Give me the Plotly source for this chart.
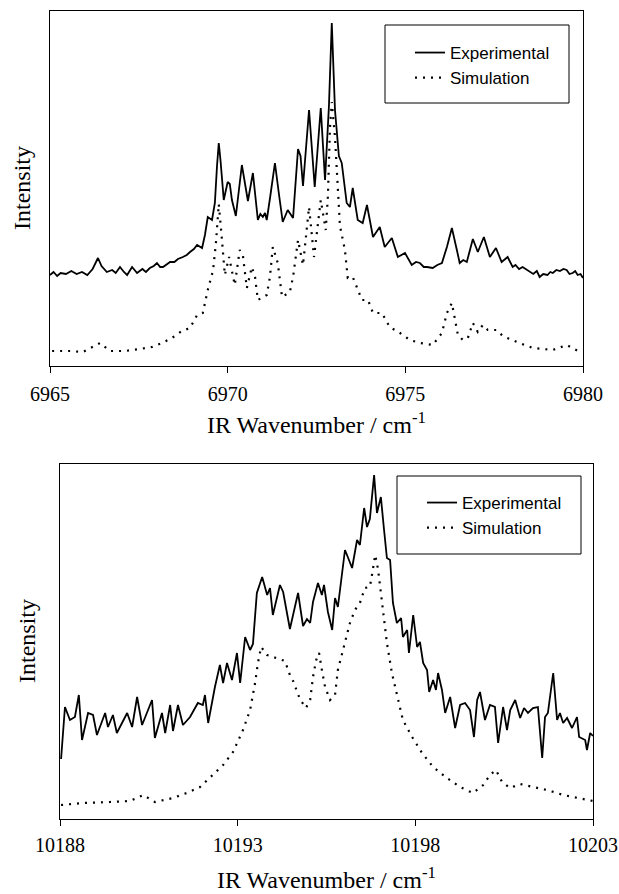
import plotly.graph_objects as go

# ---------------- data: 6965-6980 cm-1 band ----------------
top_exp_wn = [6965.00, 6965.10, 6965.20, 6965.30, 6965.45, 6965.60, 6965.75, 6965.90, 6966.05, 6966.20,
              6966.35, 6966.45, 6966.60, 6966.75, 6966.85, 6966.97, 6967.08, 6967.17, 6967.31, 6967.40,
              6967.45, 6967.60, 6967.70, 6967.81, 6967.92, 6968.01, 6968.10, 6968.18, 6968.30, 6968.38,
              6968.50, 6968.60, 6968.74, 6968.85, 6968.94, 6969.05, 6969.14, 6969.28, 6969.36, 6969.44,
              6969.56, 6969.64, 6969.70, 6969.75, 6969.80, 6969.89, 6970.00, 6970.06, 6970.12, 6970.20,
              6970.23, 6970.40, 6970.50, 6970.57, 6970.71, 6970.85, 6970.92, 6970.99, 6971.05, 6971.10,
              6971.20, 6971.33, 6971.45, 6971.55, 6971.69, 6971.84, 6971.98, 6972.05, 6972.12, 6972.29,
              6972.45, 6972.62, 6972.74, 6972.79, 6972.85, 6972.93, 6973.02, 6973.13, 6973.21, 6973.35,
              6973.44, 6973.52, 6973.66, 6973.80, 6973.92, 6974.09, 6974.28, 6974.42, 6974.62, 6974.79,
              6974.99, 6975.18, 6975.30, 6975.41, 6975.52, 6975.61, 6975.77, 6975.90, 6976.03, 6976.17,
              6976.31, 6976.45, 6976.53, 6976.63, 6976.73, 6976.90, 6977.04, 6977.21, 6977.38, 6977.55,
              6977.71, 6977.88, 6978.02, 6978.10, 6978.20, 6978.30, 6978.42, 6978.50, 6978.60, 6978.70,
              6978.78, 6978.88, 6979.00, 6979.08, 6979.15, 6979.25, 6979.35, 6979.45, 6979.54, 6979.62,
              6979.71, 6979.78, 6979.85, 6979.93, 6980.00]
top_exp_int = [91, 94, 90, 93, 92, 95, 92, 94, 91, 97,
               108, 100, 94, 96, 93, 99, 94, 91, 99, 95,
               93, 97, 94, 98, 100, 103, 99, 99, 102, 104,
               104, 107, 109, 111, 114, 117, 121, 118, 131, 149,
               146, 163, 200, 223, 205, 166, 184, 182, 166, 156,
               150, 201, 180, 165, 193, 146, 152, 149, 153, 146,
               170, 203, 170, 144, 156, 148, 217, 210, 180, 256,
               179, 258, 186, 224, 260, 343, 256, 210, 203, 163,
               159, 178, 146, 143, 161, 129, 139, 119, 128, 109,
               113, 101, 104, 103, 99, 99, 98, 101, 103, 119,
               138, 116, 103, 106, 104, 127, 114, 129, 109, 118,
               104, 109, 99, 101, 97, 99, 96, 94, 92, 95,
               89, 92, 91, 94, 93, 96, 95, 97, 96, 92,
               93, 95, 91, 92, 88]

top_sim_wn = [6965.06, 6965.56, 6965.93, 6966.41, 6966.69, 6967.11, 6967.53, 6967.87, 6968.15, 6968.43,
              6968.71, 6968.94, 6969.14, 6969.30, 6969.44, 6969.59, 6969.67, 6969.73, 6969.75, 6969.84,
              6969.92, 6970.04, 6970.20, 6970.34, 6970.43, 6970.54, 6970.68, 6970.77, 6970.85, 6971.10,
              6971.19, 6971.27, 6971.41, 6971.53, 6971.75, 6971.84, 6971.98, 6972.12, 6972.20, 6972.29,
              6972.43, 6972.54, 6972.62, 6972.76, 6972.82, 6972.88, 6972.93, 6973.02, 6973.07, 6973.16,
              6973.30, 6973.38, 6973.52, 6973.64, 6973.78, 6973.95, 6974.09, 6974.34, 6974.56, 6974.85,
              6975.13, 6975.41, 6975.77, 6976.03, 6976.17, 6976.31, 6976.39, 6976.48, 6976.62, 6976.76,
              6976.90, 6977.04, 6977.18, 6977.32, 6977.57, 6977.74, 6978.14, 6978.59, 6979.15, 6979.54,
              6979.91]
top_sim_int = [15, 15, 14, 23, 15, 15, 17, 19, 23, 28,
               35, 38, 51, 53, 76, 96, 123, 149, 162, 126,
               91, 109, 81, 116, 110, 78, 99, 89, 66, 71,
               89, 119, 103, 69, 74, 89, 126, 101, 129, 159,
               109, 143, 166, 136, 169, 239, 264, 229, 193, 140,
               116, 88, 89, 79, 66, 66, 53, 53, 39, 33,
               26, 23, 21, 33, 53, 63, 49, 31, 26, 28,
               43, 34, 41, 36, 36, 30, 24, 18, 16, 21,
               14]

# ---------------- data: 10188-10203 cm-1 band ----------------
bot_exp_wn = [10188.03, 10188.14, 10188.28, 10188.42, 10188.53, 10188.62, 10188.79, 10188.93, 10189.04, 10189.27,
              10189.35, 10189.49, 10189.60, 10189.89, 10190.03, 10190.17, 10190.31, 10190.59, 10190.67, 10190.87,
              10190.96, 10191.10, 10191.18, 10191.32, 10191.46, 10191.66, 10191.88, 10192.02, 10192.08, 10192.17,
              10192.36, 10192.50, 10192.59, 10192.70, 10192.84, 10192.98, 10193.07, 10193.21, 10193.35, 10193.43,
              10193.54, 10193.69, 10193.83, 10193.91, 10193.99, 10194.19, 10194.28, 10194.39, 10194.47, 10194.61,
              10194.70, 10194.84, 10194.95, 10195.04, 10195.12, 10195.26, 10195.37, 10195.43, 10195.54, 10195.66,
              10195.74, 10195.82, 10195.94, 10196.02, 10196.11, 10196.22, 10196.36, 10196.44, 10196.56, 10196.64,
              10196.72, 10196.84, 10196.92, 10197.03, 10197.12, 10197.20, 10197.29, 10197.37, 10197.48, 10197.60,
              10197.65, 10197.77, 10197.82, 10197.94, 10198.05, 10198.13, 10198.22, 10198.33, 10198.39, 10198.50,
              10198.58, 10198.64, 10198.75, 10198.84, 10198.98, 10199.12, 10199.26, 10199.40, 10199.54, 10199.65,
              10199.74, 10199.82, 10199.96, 10200.10, 10200.24, 10200.33, 10200.47, 10200.58, 10200.67, 10200.81,
              10200.95, 10201.06, 10201.17, 10201.31, 10201.45, 10201.57, 10201.65, 10201.73, 10201.88, 10201.99,
              10202.07, 10202.16, 10202.27, 10202.41, 10202.55, 10202.61, 10202.78, 10202.83, 10202.92, 10203.00]
bot_exp_int = [60, 112, 99, 102, 124, 79, 106, 104, 84, 106,
               92, 104, 86, 106, 92, 122, 94, 119, 81, 106,
               86, 114, 88, 114, 94, 102, 116, 114, 124, 96,
               132, 154, 136, 156, 139, 166, 136, 182, 169, 175,
               226, 242, 224, 231, 204, 234, 227, 207, 190, 212,
               226, 193, 200, 196, 217, 236, 224, 234, 207, 189,
               221, 212, 244, 269, 261, 251, 279, 274, 311, 292,
               300, 344, 306, 322, 289, 261, 259, 216, 196, 201,
               182, 189, 166, 204, 172, 177, 156, 149, 127, 139,
               129, 146, 129, 106, 122, 91, 114, 116, 109, 82,
               119, 127, 99, 114, 112, 76, 112, 89, 109, 119,
               101, 111, 106, 111, 112, 61, 102, 106, 146, 99,
               106, 96, 101, 91, 102, 82, 79, 69, 86, 83]

bot_sim_wn = [10188.03, 10188.65, 10189.41, 10189.97, 10190.34, 10190.67, 10191.18, 10191.57, 10191.94, 10192.31,
              10192.59, 10192.87, 10193.15, 10193.35, 10193.49, 10193.57, 10193.66, 10193.83, 10194.11, 10194.33,
              10194.47, 10194.56, 10194.75, 10194.92, 10195.04, 10195.12, 10195.21, 10195.29, 10195.37, 10195.46,
              10195.60, 10195.74, 10195.82, 10195.94, 10196.05, 10196.16, 10196.30, 10196.44, 10196.58, 10196.72,
              10196.78, 10196.87, 10196.95, 10197.06, 10197.20, 10197.34, 10197.48, 10197.65, 10197.91, 10198.19,
              10198.50, 10198.89, 10199.26, 10199.62, 10199.91, 10200.10, 10200.27, 10200.44, 10200.67, 10200.95,
              10201.31, 10201.71, 10202.16, 10202.64, 10203.00]
bot_sim_int = [14, 16, 17, 18, 24, 17, 21, 26, 32, 44,
               54, 67, 89, 109, 136, 156, 172, 164, 161, 158,
               144, 138, 120, 111, 119, 142, 159, 166, 149, 132,
               119, 124, 149, 166, 179, 196, 209, 216, 231, 232,
               244, 264, 250, 216, 176, 146, 124, 99, 82, 66,
               52, 41, 32, 26, 34, 44, 49, 37, 31, 35,
               32, 29, 24, 21, 18]

top_ticks = [6965, 6970, 6975, 6980]
bot_ticks = [10188, 10193, 10198, 10203]
series_names = ["Experimental", "Simulation"]
x_label = "IR Wavenumber / cm<sup>-1</sup>"
y_label = "Intensity"

W, H = 619, 894
SERIF = "Liberation Serif"
SANS = "Liberation Sans"

exp_line = dict(color="black", width=1.8)
sim_line = dict(color="black", width=2.2, dash="2px,6px")

fig = go.Figure()
fig.add_trace(go.Scatter(x=top_exp_wn, y=top_exp_int, mode="lines", line=exp_line,
                         name=series_names[0], xaxis="x", yaxis="y", legend="legend"))
fig.add_trace(go.Scatter(x=top_sim_wn, y=top_sim_int, mode="lines", line=sim_line,
                         name=series_names[1], xaxis="x", yaxis="y", legend="legend"))
fig.add_trace(go.Scatter(x=bot_exp_wn, y=bot_exp_int, mode="lines", line=exp_line,
                         name=series_names[0], xaxis="x2", yaxis="y2", legend="legend2"))
fig.add_trace(go.Scatter(x=bot_sim_wn, y=bot_sim_int, mode="lines", line=sim_line,
                         name=series_names[1], xaxis="x2", yaxis="y2", legend="legend2"))


def px_x(p):
    return p / W


def px_y(p):
    return 1 - p / H


common_x = dict(showline=True, linecolor="black", linewidth=1, mirror=True, showgrid=False,
                zeroline=False, ticks="outside", ticklen=6, tickwidth=1, tickcolor="black",
                tickfont=dict(family=SERIF, size=20, color="black"), tickformat="d",
                automargin=False)
common_y = dict(showline=True, linecolor="black", linewidth=1, mirror=True, showgrid=False,
                zeroline=False, showticklabels=False, ticks="", range=[0, 355], automargin=False)

legend_style = dict(xanchor="left", yanchor="top", bgcolor="rgba(0,0,0,0)", borderwidth=0,
                    font=dict(family=SANS, size=17, color="black"), tracegroupgap=0)

title_font = dict(family=SERIF, size=24, color="black")
annotations = [
    dict(text=x_label, xref="paper", yref="paper", x=px_x(316), y=px_y(423),
         xanchor="center", yanchor="middle", showarrow=False, font=title_font),
    dict(text=x_label, xref="paper", yref="paper", x=px_x(326), y=px_y(878),
         xanchor="center", yanchor="middle", showarrow=False, font=title_font),
    dict(text=y_label, xref="paper", yref="paper", x=px_x(22), y=px_y(188), textangle=-90,
         xanchor="center", yanchor="middle", showarrow=False, font=title_font),
    dict(text=y_label, xref="paper", yref="paper", x=px_x(27), y=px_y(641), textangle=-90,
         xanchor="center", yanchor="middle", showarrow=False, font=title_font),
]

fig.update_layout(
    width=W, height=H,
    margin=dict(l=0, r=0, t=0, b=0),
    paper_bgcolor="white", plot_bgcolor="white",
    font=dict(family=SERIF, color="black"),
    xaxis=dict(common_x, domain=[px_x(50), px_x(583)], range=[6965, 6980], tickvals=top_ticks,
               anchor="y", ticklabelstandoff=4),
    yaxis=dict(common_y, domain=[px_y(366), px_y(11)], anchor="x"),
    xaxis2=dict(common_x, domain=[px_x(60), px_x(593)], range=[10188, 10203], tickvals=bot_ticks,
                anchor="y2", ticklabelstandoff=2),
    yaxis2=dict(common_y, domain=[px_y(819), px_y(464)], anchor="x2"),
    legend=dict(legend_style, x=px_x(410), y=px_y(35)),
    legend2=dict(legend_style, x=px_x(422), y=px_y(485)),
    annotations=annotations,
    shapes=[
        dict(type="rect", xref="paper", yref="paper", x0=px_x(385), x1=px_x(569),
             y0=px_y(103), y1=px_y(25), line=dict(color="black", width=1), layer="below"),
        dict(type="rect", xref="paper", yref="paper", x0=px_x(397), x1=px_x(581),
             y0=px_y(554), y1=px_y(476), line=dict(color="black", width=1), layer="below"),
    ],
)

fig.write_html("out.html")
